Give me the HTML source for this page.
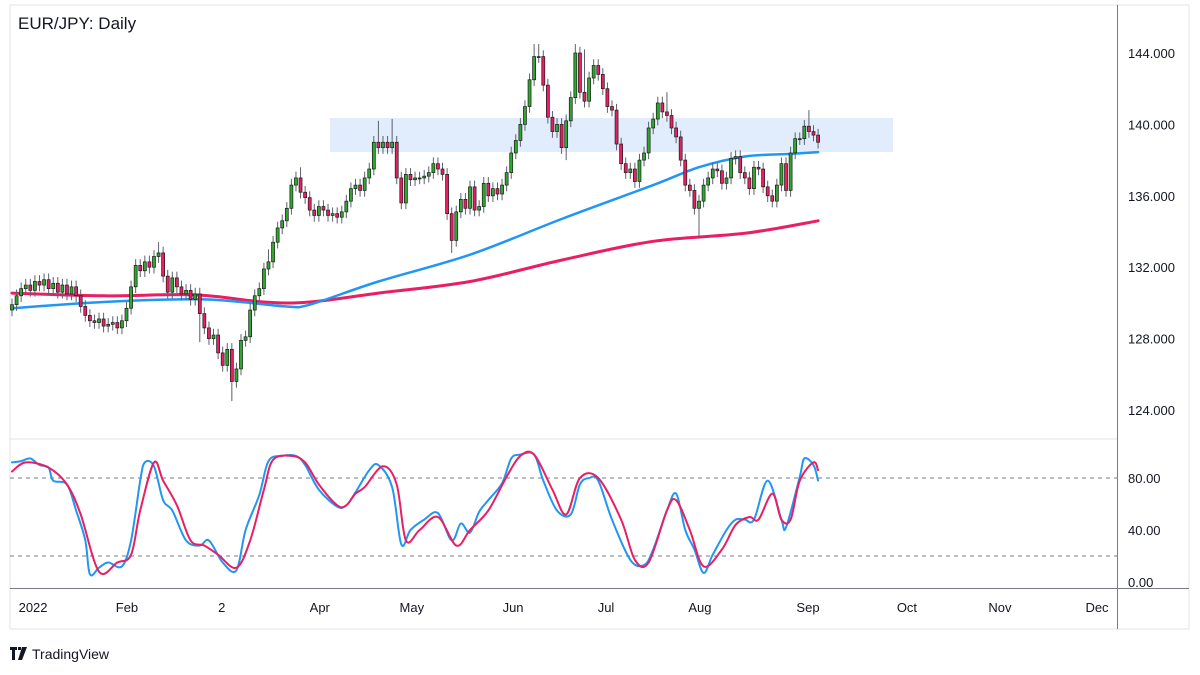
<!DOCTYPE html>
<html><head><meta charset="utf-8"><style>
html,body{margin:0;padding:0;background:#fff;width:1200px;height:675px;overflow:hidden}
svg text{font-family:"Liberation Sans",sans-serif}
</style></head><body>
<svg id="c" width="1200" height="675" xmlns="http://www.w3.org/2000/svg">
<rect x="10" y="5" width="1179" height="624" fill="#fff" stroke="#e0e3eb"/>
<line x1="10" y1="439" x2="1117" y2="439" stroke="#e0e3eb"/>
<line x1="1117.5" y1="5" x2="1117.5" y2="629" stroke="#787b86"/>
<line x1="10" y1="588.5" x2="1189" y2="588.5" stroke="#787b86"/>
<rect x="330" y="118" width="563" height="34" fill="#dceafb" opacity="0.85"/>
<line x1="10" y1="478" x2="1117" y2="478" stroke="#787b86" stroke-dasharray="4,4"/>
<line x1="10" y1="556" x2="1117" y2="556" stroke="#787b86" stroke-dasharray="4,4"/>
<g id="ticks"></g>
<g id="mas"></g>
<g id="candles"></g>
<g id="stoch"></g>
<text x="18" y="29" font-size="17" fill="#131722">EUR/JPY: Daily</text>
<g>
<path d="M10 647h7v3h-2v10h-3v-10h-2z M18 647h3v3h-3z M22 647h5l-5 13h-4z" fill="#131722"/>
<text x="32" y="659" font-size="14" fill="#131722">TradingView</text>
</g>
</svg>
<script>
const closes=[129.9,130.4,130.8,131.0,130.7,131.2,131.0,131.3,130.8,131.1,
130.6,131.0,130.5,130.9,130.4,129.8,129.3,129.0,128.9,129.1,
128.7,128.8,128.9,128.6,129.0,129.7,130.9,132.1,131.8,132.3,
132.0,132.6,132.8,131.5,130.6,131.4,130.9,130.5,130.7,130.2,
130.5,129.4,128.6,128.0,128.2,127.2,126.5,127.4,125.6,126.3,
127.9,128.1,129.6,130.4,130.8,131.9,132.3,133.4,134.2,134.6,
135.3,136.6,137.0,136.2,135.9,135.2,134.9,135.4,135.2,134.9,
135.0,134.8,135.1,135.7,136.4,136.6,136.3,137.0,137.5,139.0,
138.7,139.0,138.7,139.0,137.0,135.6,137.2,136.9,137.0,137.0,
137.1,137.3,137.8,137.5,137.2,135.0,133.5,135.1,135.8,135.3,
136.5,135.2,135.4,136.7,136.0,136.4,136.1,136.6,137.3,138.4,
139.1,140.0,141.0,142.5,143.8,143.8,142.2,140.4,139.6,140.0,
138.7,140.2,141.5,144.0,141.8,141.3,142.6,143.3,142.8,142.0,
141.0,140.8,138.9,137.8,137.3,137.5,136.8,138.0,138.4,139.8,
140.3,141.2,140.7,140.5,139.8,139.3,138.0,136.6,136.3,135.3,
135.7,136.6,137.0,137.5,137.4,136.7,137.0,138.1,138.2,137.3,
137.0,136.4,137.6,137.5,136.5,136.0,135.7,136.6,137.8,136.3,
138.4,139.2,139.2,139.9,139.6,139.4,139.0];
const firstOpen=129.6;
const highIdx=[32,56,63,80,83,114,115,123,125,143,174];
const highVal=[133.4,133.0,137.6,140.2,140.3,144.5,144.5,144.5,144.2,141.8,140.8];
const lowIdx=[48,96,121,150,41];
const lowVal=[124.5,132.8,138.0,133.6,127.8];
const blueIdx=[0,20,40,50,60,65,80,100,120,140,150,160,170,176];
const blueVal=[129.7,130.05,130.2,130.05,129.8,129.9,131.2,132.7,134.7,136.6,137.6,138.2,138.35,138.45];
const redIdx=[0,20,40,55,65,80,100,120,140,160,176];
const redVal=[130.55,130.4,130.45,130.05,130.05,130.55,131.2,132.4,133.45,133.9,134.6];
const kDay=[0,2,4,6,8,9,12,14,16,17,19,21,24,26,28,29,31,33,35,38,41,43,46,49,51,54,56,59,62,64,67,71,73,75,78,80,83,85,87,90,93,96,98,100,102,104,107,109,111,114,116,119,122,124,126,128,131,135,138,140,143,145,147,149,151,153,156,158,160,162,165,168,169,172,173,175,176];
const kVal=[92,93,95,90,88,78,75,55,32,6,11,15,12,32,78,92,89,63,55,32,28,32,15,9,40,67,93,97,97,90,71,58,59,69,86,90,73,29,40,48,53,32,45,38,54,63,76,95,98,98,78,55,52,75,80,78,48,17,13,25,55,68,40,25,7,21,40,48,48,48,78,48,42,81,95,90,78];
const dDay=[0,3,8,12,15,19,23,26,28,31,33,36,39,42,45,49,52,55,57,61,64,67,71,73,75,77,81,84,86,89,93,97,100,104,108,111,114,118,121,124,128,133,136,139,143,145,148,151,155,158,161,163,166,168,170,172,175,176];
const dVal=[85,92,88,75,52,8,15,21,55,92,78,59,32,28,21,11,32,71,94,97,92,75,59,59,68,73,89,75,32,40,50,28,40,55,81,97,98,71,52,80,80,48,17,15,55,63,40,12,25,44,50,48,68,48,48,78,92,86];
const priceTicks=[144,140,136,132,128,124];
const stochTicks=[80,40,0];
const monthLabels=["2022","Feb","2","Apr","May","Jun","Jul","Aug","Sep","Oct","Nov","Dec"];
const monthIdx=[4.6,25.1,45.8,67.2,87.3,109.4,129.7,150.2,173.8,195.4,215.7,236.9];

const NS="http://www.w3.org/2000/svg";
const X=i=>12+i*4.58;
const Y=p=>53+(144-p)*17.85;
const SY=v=>582-v*1.3;
function mk(tag,attrs,parent){const e=document.createElementNS(NS,tag);for(const k in attrs)e.setAttribute(k,attrs[k]);parent.appendChild(e);return e;}

const tg=document.getElementById('ticks');
priceTicks.forEach(p=>{const t=mk('text',{x:1128,y:Y(p)+5,'font-size':13,fill:'#131722'},tg);t.textContent=p.toFixed(3);

});
stochTicks.forEach(v=>{const t=mk('text',{x:1128,y:SY(v)+5,'font-size':13,fill:'#131722'},tg);t.textContent=v.toFixed(2);

});
monthLabels.forEach((m,j)=>{const t=mk('text',{x:X(monthIdx[j]),y:612,'font-size':13,fill:'#131722','text-anchor':'middle'},tg);t.textContent=m;

});

function smoothPath(pts){
 let d='M'+pts[0][0].toFixed(1)+','+pts[0][1].toFixed(1);
 for(let j=0;j<pts.length-1;j++){
  const p0=pts[Math.max(0,j-1)],p1=pts[j],p2=pts[j+1],p3=pts[Math.min(pts.length-1,j+2)];
  const c1=[p1[0]+(p2[0]-p0[0])/6,p1[1]+(p2[1]-p0[1])/6];
  const c2=[p2[0]-(p3[0]-p1[0])/6,p2[1]-(p3[1]-p1[1])/6];
  d+=' C'+c1[0].toFixed(1)+','+c1[1].toFixed(1)+' '+c2[0].toFixed(1)+','+c2[1].toFixed(1)+' '+p2[0].toFixed(1)+','+p2[1].toFixed(1);
 }
 return d;
}
function line(idx,vals,yf,color,w,g,name){
 const pts=idx.map((d,j)=>[X(d),yf(vals[j])]);
 const p=mk('path',{d:smoothPath(pts),fill:'none',stroke:color,'stroke-width':w,'stroke-linejoin':'round','stroke-linecap':'round'},g);
 
 
}
const mg=document.getElementById('mas');
line(redIdx,redVal,Y,'#e91e63',3,mg,'ma-slow-line');
line(blueIdx,blueVal,Y,'#2196f3',2.5,mg,'ma-fast-line');

const cg=document.getElementById('candles');
closes.forEach((c,i)=>{
 const o=i===0?firstOpen:closes[i-1];
 let h=Math.max(o,c)+0.35,l=Math.min(o,c)-0.35;
 const hi=highIdx.indexOf(i); if(hi>=0)h=highVal[hi];
 const li=lowIdx.indexOf(i); if(li>=0)l=lowVal[li];
 const x=X(i);
 const w=mk('line',{x1:x,x2:x,y1:Y(h),y2:Y(l),stroke:'#5d606b','stroke-width':1},cg);
 
 
 const top=Y(Math.max(o,c)),bot=Y(Math.min(o,c));
 const b=mk('rect',{x:x-1.5,y:top,width:3,height:Math.max(1,bot-top),fill:c>=o?'#2ea82e':'#e91e63',stroke:'#1b1b1b','stroke-width':0.7},cg);
 
 
});

const sg=document.getElementById('stoch');
line(kDay,kVal,SY,'#2196f3',2,sg,'stoch-k-line');
line(dDay,dVal,SY,'#e91e63',2,sg,'stoch-d-line');
</script>
</body></html>
